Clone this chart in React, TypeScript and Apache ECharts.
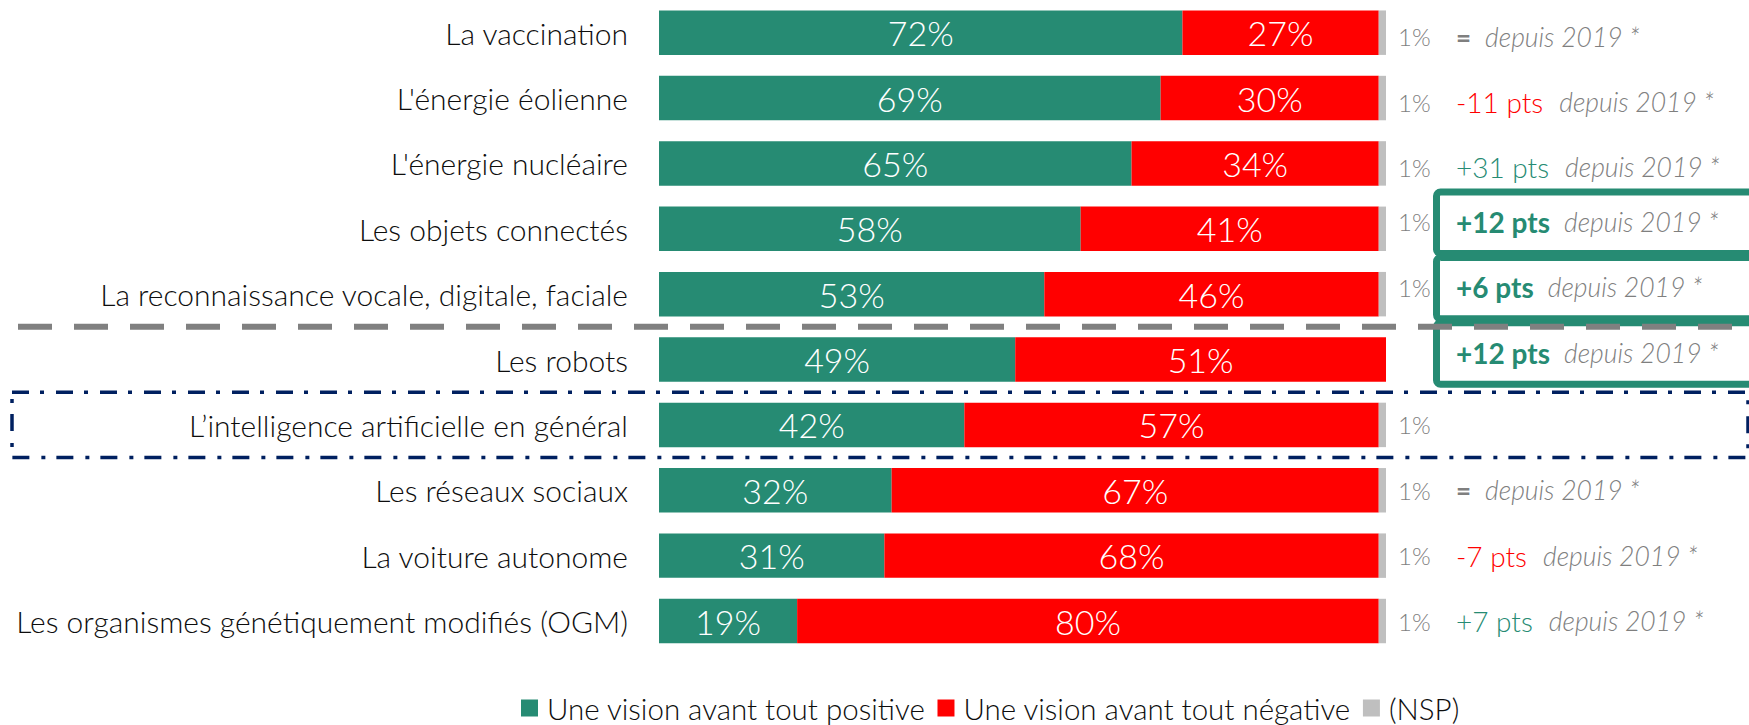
import React, { useEffect, useRef } from "react";
import * as echarts from "echarts";

// ---------- data ----------
const categories = [
  "La vaccination",
  "L'énergie éolienne",
  "L'énergie nucléaire",
  "Les objets connectés",
  "La reconnaissance vocale, digitale, faciale",
  "Les robots",
  "L’intelligence artificielle en général",
  "Les réseaux sociaux",
  "La voiture autonome",
  "Les organismes génétiquement modifiés (OGM)",
];
const positive = [72, 69, 65, 58, 53, 49, 42, 32, 31, 19];
const negative = [27, 30, 34, 41, 46, 51, 57, 67, 68, 80];
const nsp = [1, 1, 1, 1, 1, 0, 1, 1, 1, 1];
const changeSince2019 = ["=", "-11 pts", "+31 pts", "+12 pts", "+6 pts", "+12 pts", "", "=", "-7 pts", "+7 pts"];
const highlighted = [false, false, false, true, true, true, false, false, false, false];
const seriesNames = ["Une vision avant tout positive", "Une vision avant tout négative", "(NSP)"];
const sinceText = "depuis 2019 *";
const separatorAfterIndex = 4;
const focusIndex = 6;

// ---------- styles ----------
const FONT = "Lato, 'Open Sans', sans-serif";
const GREEN = "#268B73";
const RED = "#FF0000";
const GREY = "#BFBFBF";
const TEXT_GREY = "#7F7F7F";
const NAVY = "#002060";
const annotationNudge = [4, 4, 4, -7, -7, -7, 0, 0, 0, 0];

export default function App() {
  const ref = useRef<HTMLDivElement>(null);

  useEffect(() => {
    if (!ref.current) return;
    const chart = echarts.init(ref.current, undefined, { renderer: "svg" });

    const valueLabel = {
      show: true,
      position: "inside",
      color: "#FFFFFF",
      fontFamily: FONT,
      fontWeight: 300,
      fontSize: 34,
      formatter: (p: any) => `${p.value}%`,
    };

    const nspData = nsp.map((v, i) => ({
      value: v,
      label: { offset: [0, annotationNudge[i]] },
    }));

    const option: any = {
      animation: false,
      textStyle: { fontFamily: FONT },
      grid: { left: 659, right: 363, top: -2.3, height: 656, containLabel: false },
      xAxis: { type: "value", min: 0, max: 100, show: false },
      yAxis: {
        type: "category",
        inverse: true,
        data: categories,
        axisLine: { show: false },
        axisTick: { show: false },
        splitLine: { show: false },
        axisLabel: {
          margin: 31,
          fontSize: 30,
          fontWeight: 300,
          color: "#0D0D0D",
          fontFamily: FONT,
        },
      },
      legend: {
        left: 516,
        top: 688,
        icon: "rect",
        itemWidth: 17,
        itemHeight: 17,
        itemGap: 12,
        data: seriesNames,
        textStyle: { fontSize: 29.5, fontWeight: 300, color: "#0D0D0D", fontFamily: FONT, padding: [0, 0, 0, 4] },
      },
      series: [
        {
          name: seriesNames[0],
          type: "bar",
          stack: "total",
          barCategoryGap: "32%",
          itemStyle: { color: GREEN },
          label: valueLabel,
          data: positive,
        },
        {
          name: seriesNames[1],
          type: "bar",
          stack: "total",
          barCategoryGap: "32%",
          itemStyle: { color: RED },
          label: valueLabel,
          data: negative,
        },
        {
          name: seriesNames[2],
          type: "bar",
          stack: "total",
          barCategoryGap: "32%",
          itemStyle: { color: GREY },
          data: nspData,
          label: {
            show: true,
            position: "right",
            distance: 12,
            fontFamily: FONT,
            formatter: (p: any) => {
              const i = p.dataIndex;
              const pct = nsp[i] > 0 ? `${nsp[i]}%` : "\u00a0";
              let s = `{pct|${pct}}`;
              const chg = changeSince2019[i];
              if (chg) {
                const st = chg === "=" ? "eq" : chg.startsWith("-") ? "neg" : highlighted[i] ? "posB" : "pos";
                s += `{${st}|${chg}}{dep|${sinceText}}`;
              }
              return s;
            },
            rich: {
              pct: { width: 58, fontSize: 24, fontWeight: 300, color: TEXT_GREY, fontFamily: FONT },
              eq: { fontSize: 26, fontWeight: "bold", color: TEXT_GREY, fontFamily: FONT, padding: [0, 14, 0, 0] },
              neg: { fontSize: 28, fontWeight: 300, color: RED, fontFamily: FONT, padding: [0, 16, 0, 0] },
              pos: { fontSize: 28, fontWeight: 300, color: GREEN, fontFamily: FONT, padding: [0, 16, 0, 0] },
              posB: { fontSize: 28, fontWeight: "bold", color: GREEN, fontFamily: FONT, padding: [0, 14, 0, 0] },
              dep: { fontSize: 26.5, fontStyle: "italic", fontWeight: 300, color: TEXT_GREY, fontFamily: FONT },
            },
          },
        },
      ],
    };

    chart.setOption(option);

    const y0 = chart.convertToPixel({ yAxisIndex: 0 } as any, categories[0]) as unknown as number;
    const y1 = chart.convertToPixel({ yAxisIndex: 0 } as any, categories[1]) as unknown as number;
    const band = y1 - y0;
    const cy = (i: number) => y0 + band * i;

    const graphics: any[] = [];
    highlighted.forEach((h, i) => {
      if (!h) return;
      graphics.push({
        type: "rect",
        z: 100,
        shape: { x: 1436.5, y: cy(i) - band / 2 - 4, width: 400, height: band - 4, r: 4 },
        style: { fill: "none", stroke: GREEN, lineWidth: 7 },
      });
    });
    const sepY = (cy(separatorAfterIndex) + cy(separatorAfterIndex + 1)) / 2;
    graphics.push({
      type: "line",
      z: 110,
      shape: { x1: 18, y1: sepY, x2: 1760, y2: sepY },
      style: { stroke: "#808080", lineWidth: 6, lineDash: [34, 22] },
    });
    graphics.push({
      type: "rect",
      z: 110,
      shape: { x: 12, y: cy(focusIndex) - band / 2, width: 1736, height: band },
      style: { fill: "none", stroke: NAVY, lineWidth: 3.5, lineDash: [17, 11, 4, 12] },
    });

    chart.setOption({ graphic: graphics });

    return () => chart.dispose();
  }, []);

  return (
    <div
      ref={ref}
      style={{ position: "absolute", left: 0, top: 0, width: 1749, height: 725, background: "#FFFFFF" }}
    />
  );
}
